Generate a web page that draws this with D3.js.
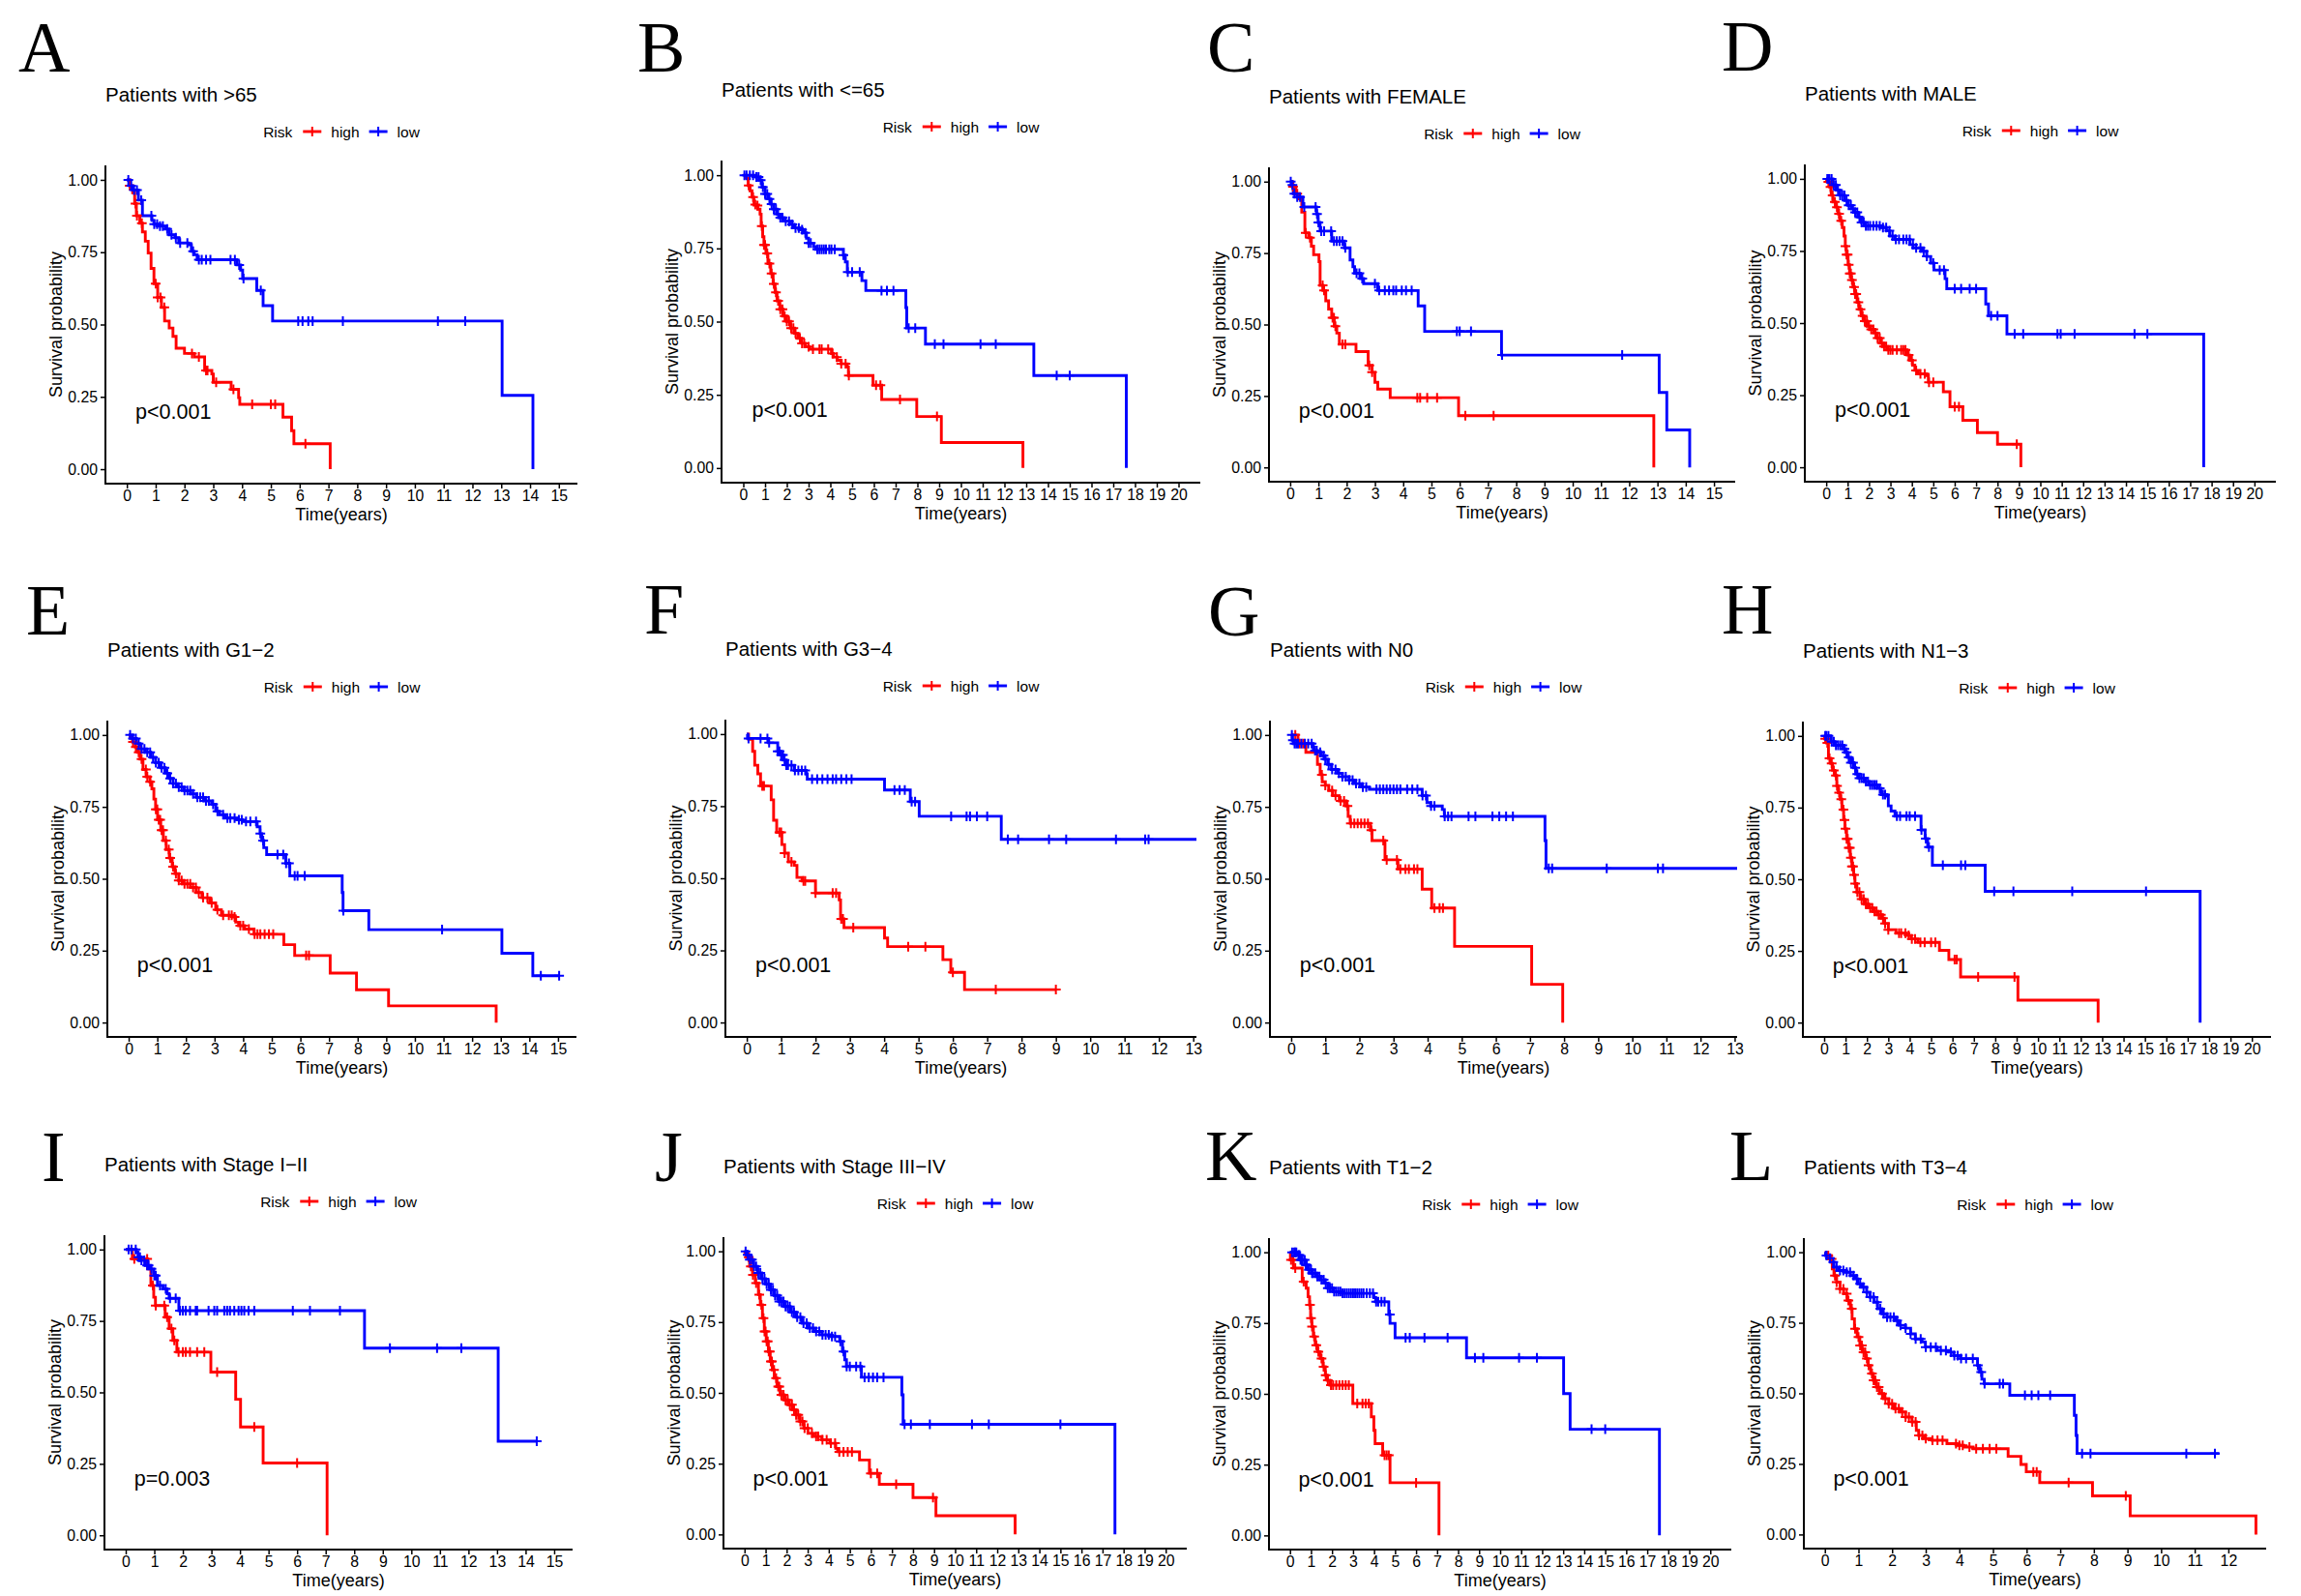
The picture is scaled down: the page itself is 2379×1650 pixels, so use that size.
<!DOCTYPE html>
<html><head><meta charset="utf-8">
<script src="https://cdn.jsdelivr.net/npm/d3@7"></script>
<style>body{margin:0;background:#fff}</style>
</head><body>
<svg id="chart" width="2379" height="1650"></svg>
<script>
// ---------------- DATA ----------------
const panelLetters = ["A","B","C","D","E","F","G","H","I","J","K","L"];
const panelTitles = ["Patients with >65","Patients with <=65","Patients with FEMALE","Patients with MALE",
  "Patients with G1\u22122","Patients with G3\u22124","Patients with N0","Patients with N1\u22123",
  "Patients with Stage I\u2212II","Patients with Stage III\u2212IV","Patients with T1\u22122","Patients with T3\u22124"];
const pValues = ["p<0.001","p<0.001","p<0.001","p<0.001","p<0.001","p<0.001","p<0.001","p<0.001","p=0.003","p<0.001","p<0.001","p<0.001"];
const xLimits = [14.9,20,15,20,14.9,12.47,12.45,19.9,14.9,20,20,12.5];
const xTickMax = [15,20,15,20,15,13,13,20,15,20,20,12];
const yTicks = [0,0.25,0.5,0.75,1];
const riskGroups = ["high","low"];
const highEnds = [7.06,12.85,12.87,9.09,12.84,9.0,7.96,12.81,7.05,12.85,7.09,12.82];
const lowEnds  = [14.1,17.6,14.14,17.63,15.04,13.2,13.2,17.58,14.39,17.59,17.58,11.73];

// steps: [time, survival after drop]; censors: times
const A_high = [[0.1,0.98],[0.2,0.955],[0.27,0.918],[0.33,0.876],[0.45,0.85],[0.54,0.82],[0.64,0.788],[0.74,0.747],[0.84,0.694],[0.94,0.641],[1.07,0.594],[1.2,0.559],[1.31,0.512],[1.47,0.488],[1.6,0.459],[1.71,0.418],[2.0,0.4],[2.34,0.388],[2.7,0.341],[2.95,0.329],[3.0,0.3],[3.62,0.276],[3.88,0.247],[3.92,0.224],[5.42,0.18],[5.72,0.133],[5.8,0.088],[7.06,0]];
const A_highCens = [0.1,0.3,0.35,0.52,1.0,1.07,1.17,1.3,2.26,2.5,2.75,2.8,3.1,3.7,4.35,5.0,5.15,6.2];
const A_low = [[0.1,0.98],[0.2,0.965],[0.4,0.93],[0.54,0.876],[0.87,0.86],[0.94,0.847],[1.07,0.84],[1.34,0.83],[1.47,0.81],[1.67,0.8],[1.8,0.782],[2.14,0.776],[2.24,0.753],[2.34,0.741],[2.44,0.724],[3.82,0.706],[3.95,0.688],[4.02,0.659],[4.51,0.618],[4.73,0.565],[5.06,0.512],[13.03,0.255],[14.1,0]];
const A_lowCens = [0.05,0.15,0.25,0.35,0.5,0.85,0.95,1.05,1.15,1.25,1.4,1.55,1.7,1.85,2.1,2.3,2.5,2.6,2.75,2.9,3.6,3.75,3.9,4.05,4.65,5.95,6.1,6.3,6.45,7.5,10.8,11.75];

const B_high = [[0.13,0.99],[0.22,0.965],[0.31,0.947],[0.4,0.925],[0.49,0.9],[0.58,0.896],[0.67,0.884],[0.77,0.867],[0.82,0.826],[0.89,0.79],[0.95,0.762],[1.04,0.733],[1.13,0.698],[1.26,0.664],[1.37,0.629],[1.46,0.6],[1.55,0.571],[1.68,0.542],[1.82,0.519],[1.99,0.501],[2.17,0.478],[2.35,0.46],[2.5,0.443],[2.68,0.426],[2.86,0.414],[3.04,0.406],[4.05,0.391],[4.14,0.379],[4.32,0.368],[4.5,0.356],[4.78,0.345],[4.83,0.316],[5.96,0.283],[6.36,0.234],[7.97,0.176],[9.1,0.087],[12.85,0]];
const B_highCens = [0.25,0.45,0.55,0.65,0.85,0.95,1.0,1.1,1.2,1.3,1.4,1.5,1.6,1.7,1.8,1.9,2.0,2.1,2.2,2.3,2.4,2.6,2.7,2.8,3.0,3.2,3.5,3.6,3.9,4.1,4.3,4.5,4.7,4.85,6.1,6.3,7.2,8.9];
const B_low = [[0.58,0.994],[0.73,0.983],[0.86,0.959],[1.0,0.936],[1.13,0.919],[1.26,0.901],[1.4,0.884],[1.55,0.867],[1.68,0.855],[1.86,0.843],[2.13,0.832],[2.32,0.82],[2.59,0.814],[2.77,0.803],[2.9,0.785],[3.0,0.768],[3.23,0.756],[3.32,0.747],[4.6,0.727],[4.69,0.704],[4.78,0.669],[5.45,0.64],[5.63,0.606],[7.47,0.548],[7.51,0.478],[8.37,0.423],[13.35,0.316],[17.6,0]];
const B_lowCens = [0.05,0.15,0.3,0.45,0.6,0.7,0.8,0.9,1.0,1.1,1.2,1.3,1.4,1.5,1.6,1.7,1.8,1.95,2.1,2.25,2.4,2.55,2.7,2.85,3.0,3.1,3.4,3.5,3.6,3.7,3.8,3.95,4.05,4.2,4.6,4.8,5.0,5.35,6.35,6.6,6.9,7.6,7.9,8.8,9.2,10.9,11.6,14.4,15.0];

const C_high = [[0.08,0.982],[0.2,0.958],[0.31,0.94],[0.41,0.893],[0.52,0.821],[0.65,0.804],[0.75,0.774],[0.83,0.744],[1.02,0.72],[1.06,0.637],[1.16,0.619],[1.26,0.583],[1.36,0.554],[1.47,0.524],[1.56,0.494],[1.65,0.47],[1.74,0.431],[2.33,0.405],[2.76,0.357],[2.9,0.333],[3.0,0.298],[3.1,0.274],[3.54,0.244],[5.96,0.181],[12.87,0]];
const C_highCens = [0.1,0.25,0.55,0.7,1.15,1.2,1.5,1.55,1.6,1.85,1.95,2.8,2.9,4.5,4.6,4.85,5.2,6.2,7.2];
const C_low = [[0.05,0.988],[0.11,0.958],[0.24,0.946],[0.45,0.911],[0.93,0.887],[0.99,0.857],[1.06,0.827],[1.47,0.792],[1.92,0.768],[2.12,0.726],[2.22,0.702],[2.28,0.679],[2.49,0.661],[2.6,0.643],[3.1,0.619],[4.53,0.565],[4.76,0.476],[7.48,0.393],[13.06,0.262],[13.33,0.131],[14.14,0]];
const C_lowCens = [0.02,0.08,0.15,0.25,0.35,0.5,0.9,0.95,1.0,1.1,1.2,1.45,1.55,1.65,1.75,1.85,1.95,2.35,2.45,2.55,3.0,3.15,3.35,3.5,3.65,3.75,3.95,4.1,4.3,5.9,6.0,6.4,7.5,11.75];

const D_high = [[0.02,0.99],[0.16,0.972],[0.23,0.943],[0.31,0.92],[0.44,0.902],[0.55,0.879],[0.63,0.855],[0.75,0.831],[0.83,0.802],[0.89,0.767],[0.94,0.737],[1.02,0.702],[1.09,0.672],[1.17,0.649],[1.25,0.625],[1.33,0.601],[1.44,0.572],[1.53,0.548],[1.64,0.525],[1.75,0.507],[1.91,0.489],[2.06,0.478],[2.22,0.466],[2.38,0.448],[2.53,0.43],[2.69,0.419],[2.89,0.407],[3.78,0.389],[3.91,0.371],[4.03,0.354],[4.14,0.336],[4.3,0.324],[4.69,0.318],[4.77,0.295],[5.47,0.262],[5.78,0.21],[6.38,0.163],[7.06,0.12],[8.0,0.08],[9.09,0]];
const D_highCens = [0.1,0.2,0.3,0.4,0.5,0.6,0.7,0.9,0.95,1.0,1.05,1.1,1.15,1.2,1.3,1.35,1.4,1.5,1.6,1.7,1.8,1.9,2.0,2.1,2.2,2.3,2.4,2.5,2.6,2.7,2.8,2.9,3.0,3.1,3.3,3.5,3.6,3.7,3.85,4.0,4.2,4.4,4.6,4.8,5.0,6.0,6.2,8.9];
const D_low = [[0.31,0.979],[0.47,0.961],[0.63,0.943],[0.86,0.925],[1.02,0.908],[1.17,0.896],[1.33,0.884],[1.48,0.867],[1.64,0.849],[1.8,0.837],[2.58,0.831],[2.81,0.82],[2.97,0.802],[3.2,0.79],[3.91,0.772],[4.06,0.761],[4.45,0.749],[4.69,0.731],[4.88,0.708],[5.03,0.684],[5.55,0.654],[5.63,0.619],[7.45,0.566],[7.58,0.525],[8.44,0.462],[17.63,0]];
const D_lowCens = [0.05,0.1,0.15,0.25,0.35,0.45,0.55,0.65,0.75,0.85,0.95,1.05,1.15,1.25,1.35,1.45,1.55,1.65,1.75,1.85,1.95,2.05,2.2,2.35,2.5,2.65,2.8,2.95,3.1,3.25,3.4,3.6,3.75,3.9,4.05,4.2,4.4,4.55,4.7,5.0,5.3,5.5,6.0,6.3,6.7,7.0,7.7,8.0,8.8,9.2,10.8,10.95,11.6,14.4,15.0];

const E_high = [[0.05,0.99],[0.13,0.976],[0.23,0.958],[0.31,0.94],[0.4,0.916],[0.5,0.88],[0.61,0.855],[0.74,0.837],[0.81,0.813],[0.88,0.777],[0.94,0.741],[1.01,0.705],[1.12,0.669],[1.21,0.633],[1.31,0.602],[1.42,0.572],[1.52,0.542],[1.62,0.518],[1.75,0.494],[1.89,0.482],[2.16,0.47],[2.36,0.452],[2.56,0.434],[2.83,0.416],[3.04,0.392],[3.24,0.373],[3.64,0.367],[3.74,0.349],[3.84,0.337],[4.05,0.325],[4.38,0.307],[5.42,0.271],[5.8,0.233],[7.04,0.172],[7.96,0.114],[9.08,0.058],[12.84,0]];
const E_highCens = [0.15,0.25,0.35,0.45,0.6,0.65,0.75,0.95,1.0,1.05,1.1,1.15,1.2,1.3,1.4,1.45,1.55,1.65,1.75,1.85,1.95,2.05,2.15,2.25,2.35,2.45,2.6,2.75,2.9,3.1,3.3,3.5,3.6,3.7,3.9,4.0,4.2,4.4,4.5,4.6,4.75,4.9,5.05,6.2,6.3];
const E_low = [[0.13,0.988],[0.27,0.97],[0.4,0.952],[0.58,0.94],[0.77,0.922],[0.94,0.904],[1.12,0.886],[1.28,0.867],[1.42,0.849],[1.55,0.831],[1.69,0.819],[1.93,0.807],[2.16,0.795],[2.36,0.783],[2.63,0.771],[2.9,0.759],[3.04,0.735],[3.17,0.723],[3.37,0.711],[3.78,0.705],[3.98,0.699],[4.49,0.681],[4.59,0.657],[4.65,0.633],[4.72,0.608],[4.82,0.584],[5.49,0.554],[5.63,0.51],[7.46,0.452],[7.49,0.389],[8.39,0.323],[13.04,0.241],[14.12,0.163]];
const E_lowCens = [0.05,0.15,0.25,0.35,0.45,0.55,0.65,0.75,0.85,0.95,1.05,1.15,1.25,1.35,1.45,1.55,1.65,1.75,1.85,1.95,2.05,2.15,2.25,2.4,2.5,2.6,2.7,2.8,2.95,3.1,3.3,3.45,3.55,3.7,3.85,3.95,4.1,4.25,4.45,4.6,4.7,5.2,5.4,5.5,5.6,5.8,5.9,6.15,7.5,10.95,14.4,15.04];

const F_high = [[0.05,0.982],[0.17,0.94],[0.23,0.892],[0.32,0.862],[0.4,0.82],[0.71,0.772],[0.78,0.701],[0.87,0.659],[1.02,0.617],[1.1,0.587],[1.21,0.557],[1.38,0.545],[1.46,0.503],[1.61,0.491],[2.0,0.449],[2.69,0.425],[2.73,0.359],[2.83,0.329],[4.01,0.293],[4.1,0.263],[5.71,0.218],[5.94,0.174],[6.34,0.114]];
const F_highCens = [0.45,0.5,0.95,1.0,1.1,1.3,1.65,1.7,2.0,2.5,2.6,2.75,2.8,3.1,4.7,5.2,6.0,7.25,9.0];
const F_low = [[0.02,0.985],[0.63,0.97],[0.9,0.94],[0.98,0.928],[1.06,0.91],[1.15,0.892],[1.38,0.874],[1.73,0.862],[1.76,0.844],[4.01,0.806],[4.76,0.766],[5.02,0.715],[7.41,0.635]];
const F_lowCens = [0.05,0.4,0.6,0.65,0.9,0.95,1.0,1.05,1.1,1.15,1.2,1.3,1.4,1.5,1.6,1.7,1.9,2.05,2.2,2.35,2.5,2.6,2.75,2.9,3.05,4.3,4.45,4.6,4.8,4.9,5.95,6.4,6.5,6.7,7.0,7.6,7.9,8.8,9.3,10.75,11.6,11.7];

const G_high = [[0.2,0.97],[0.43,0.94],[0.77,0.898],[0.85,0.862],[0.91,0.837],[1.0,0.825],[1.1,0.807],[1.22,0.789],[1.41,0.771],[1.61,0.753],[1.67,0.717],[1.73,0.693],[2.32,0.669],[2.37,0.633],[2.75,0.566],[3.13,0.534],[3.84,0.464],[4.12,0.398],[4.79,0.265],[7.05,0.133],[7.96,0]];
const G_highCens = [0.12,0.25,0.35,0.9,1.0,1.2,1.3,1.45,1.55,1.65,1.75,1.85,1.95,2.05,2.15,2.25,2.35,2.7,2.8,3.1,3.2,3.35,3.45,3.6,3.7,4.2,4.35,4.45];
const G_low = [[0.03,0.982],[0.09,0.97],[0.65,0.946],[0.77,0.94],[0.88,0.928],[0.99,0.916],[1.07,0.898],[1.18,0.88],[1.36,0.867],[1.5,0.855],[1.7,0.843],[1.84,0.831],[2.06,0.819],[2.29,0.811],[3.84,0.789],[3.98,0.765],[4.09,0.753],[4.43,0.741],[4.49,0.717],[7.44,0.633],[7.47,0.536]];
const G_lowCens = [0.02,0.05,0.1,0.15,0.2,0.3,0.4,0.5,0.6,0.7,0.75,0.85,0.95,1.0,1.1,1.2,1.3,1.4,1.5,1.6,1.7,1.8,1.9,2.0,2.1,2.2,2.5,2.6,2.7,2.8,2.9,3.0,3.1,3.2,3.4,3.55,3.7,3.85,3.95,4.1,4.2,4.5,4.6,4.7,5.2,5.4,5.9,6.1,6.3,6.5,7.55,7.65,9.25,10.75,10.9];

const H_high = [[0.02,0.99],[0.11,0.976],[0.2,0.922],[0.31,0.904],[0.39,0.88],[0.5,0.862],[0.59,0.826],[0.66,0.802],[0.75,0.779],[0.83,0.743],[0.91,0.707],[0.97,0.676],[1.05,0.641],[1.14,0.61],[1.22,0.575],[1.3,0.545],[1.38,0.515],[1.44,0.485],[1.53,0.455],[1.69,0.431],[1.88,0.413],[2.06,0.4],[2.27,0.388],[2.5,0.376],[2.66,0.364],[2.81,0.346],[3.0,0.324],[3.36,0.312],[3.83,0.304],[4.06,0.292],[4.38,0.28],[5.39,0.252],[5.83,0.22],[6.38,0.159],[9.06,0.078],[12.81,0]];
const H_highCens = [0.05,0.15,0.25,0.35,0.45,0.55,0.6,0.7,0.8,0.9,0.95,1.0,1.05,1.1,1.15,1.2,1.25,1.3,1.35,1.4,1.45,1.55,1.65,1.75,1.85,1.95,2.05,2.15,2.25,2.35,2.45,2.55,2.65,2.75,2.85,3.0,3.5,3.6,3.8,3.95,4.1,4.25,4.5,4.7,5.0,5.2,6.1,6.2,7.2,8.9];
const H_low = [[0.31,0.98],[0.47,0.967],[0.86,0.955],[0.98,0.943],[1.09,0.925],[1.25,0.907],[1.38,0.889],[1.48,0.867],[1.64,0.853],[1.88,0.841],[2.11,0.829],[2.5,0.817],[2.66,0.795],[2.94,0.79],[3.0,0.756],[3.13,0.738],[3.31,0.72],[4.53,0.672],[4.72,0.642],[4.84,0.612],[5.06,0.549],[7.53,0.458],[17.58,0]];
const H_lowCens = [0.05,0.1,0.2,0.35,0.45,0.55,0.65,0.75,0.85,0.95,1.05,1.15,1.25,1.35,1.45,1.55,1.65,1.75,1.85,1.95,2.05,2.15,2.25,2.35,2.45,2.6,2.75,2.85,3.4,3.55,3.85,4.0,4.25,4.55,4.75,4.9,5.55,6.4,6.6,7.95,8.85,11.6,15.05];

const I_high = [[0.23,0.967],[0.77,0.932],[0.88,0.874],[0.98,0.833],[1.04,0.804],[1.38,0.763],[1.52,0.723],[1.65,0.682],[1.79,0.641],[2.98,0.571],[3.85,0.476],[4.02,0.379],[4.81,0.253],[7.05,0]];
const I_highCens = [0.3,0.75,0.95,1.05,1.35,1.45,1.6,1.7,1.85,2.0,2.1,2.25,2.5,2.75,3.2,4.5,6.0];
const I_low = [[0.37,0.991],[0.43,0.973],[0.54,0.962],[0.68,0.944],[0.84,0.932],[0.98,0.909],[1.11,0.874],[1.31,0.862],[1.45,0.845],[1.52,0.829],[1.86,0.786],[8.36,0.655],[13.04,0.329]];
const I_lowCens = [0.1,0.2,0.35,0.45,0.5,0.55,0.65,0.75,0.8,0.9,1.0,1.05,1.2,1.4,1.55,1.75,1.9,2.0,2.1,2.25,2.45,2.5,2.9,3.1,3.2,3.45,3.55,3.65,3.8,3.95,4.05,4.15,4.3,4.5,5.85,6.45,7.5,9.25,10.9,11.75,14.39];

const J_high = [[0.02,0.995],[0.13,0.979],[0.24,0.947],[0.38,0.917],[0.51,0.888],[0.66,0.847],[0.75,0.811],[0.85,0.764],[0.94,0.717],[1.03,0.682],[1.13,0.646],[1.22,0.611],[1.32,0.581],[1.41,0.552],[1.54,0.522],[1.69,0.493],[1.88,0.475],[2.07,0.458],[2.26,0.44],[2.45,0.422],[2.63,0.399],[2.82,0.375],[3.01,0.357],[3.29,0.346],[3.67,0.334],[4.05,0.322],[4.33,0.304],[4.42,0.292],[5.46,0.263],[5.93,0.216],[6.4,0.177],[8.0,0.13],[9.09,0.066],[12.85,0]];
const J_highCens = [0.2,0.3,0.4,0.55,0.7,0.8,0.9,0.95,1.0,1.05,1.1,1.15,1.2,1.25,1.3,1.4,1.5,1.6,1.65,1.75,1.85,1.95,2.05,2.15,2.25,2.35,2.45,2.55,2.65,2.75,2.85,3.0,3.2,3.4,3.5,3.7,3.9,4.1,4.3,4.5,4.7,4.9,5.1,6.0,6.3,7.2,8.95];
const J_low = [[0.09,0.988],[0.24,0.971],[0.43,0.947],[0.62,0.924],[0.81,0.903],[1.0,0.884],[1.22,0.864],[1.41,0.844],[1.64,0.823],[1.88,0.805],[2.16,0.785],[2.45,0.767],[2.73,0.746],[3.01,0.729],[3.29,0.717],[3.67,0.705],[4.1,0.699],[4.52,0.682],[4.65,0.646],[4.76,0.617],[4.84,0.593],[5.55,0.555],[7.47,0.493],[7.53,0.389],[17.59,0]];
const J_lowCens = [0.05,0.15,0.25,0.35,0.45,0.55,0.65,0.75,0.85,0.95,1.05,1.15,1.25,1.35,1.45,1.55,1.65,1.75,1.85,1.95,2.05,2.15,2.25,2.35,2.5,2.65,2.8,2.95,3.1,3.25,3.4,3.55,3.7,3.85,4.0,4.15,4.3,4.55,4.7,4.85,5.0,5.3,5.5,5.7,5.9,6.1,6.3,6.6,7.6,7.9,8.8,10.8,11.6,15.0];

const K_high = [[0.02,0.973],[0.16,0.944],[0.58,0.896],[0.77,0.873],[0.86,0.843],[0.93,0.814],[0.98,0.767],[1.04,0.737],[1.11,0.702],[1.2,0.672],[1.31,0.649],[1.44,0.625],[1.57,0.596],[1.68,0.566],[1.77,0.548],[1.9,0.531],[2.99,0.466],[3.87,0.419],[3.99,0.371],[4.05,0.324],[4.41,0.283],[4.76,0.186],[7.09,0]];
const K_highCens = [0.05,0.15,0.25,0.65,0.95,1.0,1.05,1.15,1.25,1.35,1.5,1.6,1.7,1.8,1.95,2.05,2.2,2.35,2.5,2.65,2.8,3.2,3.45,3.6,3.75,4.5,4.6,4.7,6.0];
const K_low = [[0.35,0.99],[0.47,0.973],[0.71,0.955],[0.89,0.938],[1.02,0.926],[1.26,0.914],[1.44,0.903],[1.62,0.891],[1.8,0.873],[2.08,0.861],[2.5,0.855],[3.99,0.84],[4.08,0.825],[4.7,0.78],[4.76,0.749],[5.0,0.698],[8.4,0.627],[13.02,0.501],[13.33,0.375],[17.58,0]];
const K_lowCens = [0.1,0.2,0.25,0.3,0.4,0.45,0.5,0.55,0.6,0.7,0.75,0.8,0.9,1.0,1.05,1.1,1.2,1.3,1.4,1.5,1.6,1.7,1.8,1.9,2.0,2.1,2.2,2.3,2.4,2.5,2.6,2.7,2.8,2.9,3.0,3.1,3.2,3.3,3.4,3.5,3.65,3.8,3.95,4.1,4.2,4.35,4.5,4.75,5.5,5.7,6.4,7.5,8.8,9.2,10.9,11.75,14.35,15.0];

const L_high = [[0.02,0.995],[0.07,0.988],[0.15,0.976],[0.22,0.941],[0.27,0.917],[0.35,0.894],[0.45,0.87],[0.56,0.853],[0.66,0.829],[0.76,0.8],[0.81,0.764],[0.88,0.729],[0.96,0.7],[1.04,0.67],[1.11,0.646],[1.21,0.623],[1.29,0.599],[1.36,0.57],[1.44,0.546],[1.53,0.522],[1.63,0.499],[1.75,0.481],[1.9,0.463],[2.05,0.446],[2.25,0.434],[2.4,0.416],[2.59,0.399],[2.72,0.369],[2.79,0.351],[2.94,0.34],[3.19,0.334],[3.63,0.322],[3.93,0.316],[4.13,0.31],[4.41,0.304],[5.45,0.277],[5.83,0.248],[5.99,0.222],[6.39,0.184],[7.96,0.137],[9.08,0.066],[12.82,0]];
const L_highCens = [0.1,0.2,0.3,0.35,0.45,0.55,0.65,0.7,0.8,0.9,1.0,1.05,1.1,1.15,1.2,1.25,1.3,1.4,1.45,1.5,1.55,1.6,1.7,1.8,1.9,2.0,2.1,2.2,2.3,2.4,2.5,2.6,2.7,2.8,2.9,3.0,3.2,3.35,3.5,3.9,4.0,4.1,4.3,4.5,4.7,4.9,5.1,6.2,6.3,7.25,8.95];
const L_low = [[0.02,0.988],[0.07,0.979],[0.17,0.965],[0.27,0.947],[0.42,0.935],[0.61,0.929],[0.76,0.917],[0.91,0.906],[0.98,0.888],[1.11,0.876],[1.24,0.858],[1.34,0.841],[1.46,0.823],[1.57,0.8],[1.7,0.782],[1.85,0.77],[2.1,0.758],[2.2,0.741],[2.4,0.731],[2.55,0.711],[2.69,0.693],[2.89,0.682],[2.99,0.664],[3.34,0.652],[3.68,0.646],[3.83,0.634],[4.03,0.623],[4.54,0.599],[4.6,0.575],[4.67,0.55],[4.74,0.534],[5.5,0.493],[7.42,0.422],[7.47,0.351],[7.5,0.287]];
const L_lowCens = [0.05,0.15,0.25,0.35,0.45,0.55,0.65,0.75,0.85,0.95,1.05,1.15,1.25,1.35,1.45,1.55,1.65,1.75,1.85,1.95,2.05,2.15,2.25,2.4,2.55,2.7,2.85,3.0,3.15,3.3,3.45,3.6,3.75,3.85,3.95,4.05,4.2,4.4,4.55,4.65,4.75,5.2,5.3,5.95,6.15,6.35,6.7,7.65,7.9,10.75,11.6];

const highSteps = [A_high,B_high,C_high,D_high,E_high,F_high,G_high,H_high,I_high,J_high,K_high,L_high];
const highCens  = [A_highCens,B_highCens,C_highCens,D_highCens,E_highCens,F_highCens,G_highCens,H_highCens,I_highCens,J_highCens,K_highCens,L_highCens];
const lowSteps  = [A_low,B_low,C_low,D_low,E_low,F_low,G_low,H_low,I_low,J_low,K_low,L_low];
const lowCens   = [A_lowCens,B_lowCens,C_lowCens,D_lowCens,E_lowCens,F_lowCens,G_lowCens,H_lowCens,I_lowCens,J_lowCens,K_lowCens,L_lowCens];

// ---------------- LAYOUT (pixels) ----------------
// [axisX, axisRight, panelTop, axisBottom]
const boxes = [[109,597,171,500],[746,1241,166,499],[1312,1794,173,498],[1866,2353,170,498],
               [111,596,745,1072],[750,1237,744,1072],[1313,1796,745,1072],[1864,2348,746,1072],
               [108,592,1277,1602],[748,1227,1279,1601],[1312,1790,1280,1602],[1865,2343,1280,1601]];
// letter [x, baseline]
const letterPos = [[19,74],[659,74],[1248,74],[1780,73],[27,656],[666,655],[1249,657],[1780,655],
                   [43,1221],[677,1221],[1246,1220],[1788,1220]];
const colors = {high:"#FF0000", low:"#0000FF"};
const SANS = "'Liberation Sans', Arial, sans-serif";
const CURVE_W = 2.9, CENS_W = 2.0;

const svg = d3.select("#chart");
svg.append("rect").attr("width",2379).attr("height",1650).attr("fill","#fff");

function survAt(steps, t){ let s=1; for(const [tt,v] of steps){ if(tt<=t) s=v; else break;} return s; }
const plusPath = "M-5,0H5M0,-5V5";

panelLetters.forEach((L,i)=>{
  const [ax, ar, top, bot] = boxes[i];
  const M = xLimits[i];
  const x = d3.scaleLinear().domain([-0.05*M, 1.05*M]).range([ax, ar]);
  const y = d3.scaleLinear().domain([-0.05, 1.05]).range([bot, top]);
  const g = svg.append("g");

  // panel letter
  g.append("text").attr("x",letterPos[i][0]).attr("y",letterPos[i][1])
    .attr("font-family","'Liberation Serif','Times New Roman',serif").attr("font-size",74).attr("fill","#000").text(L);
  // title
  g.append("text").attr("x",ax).attr("y",top-66).attr("font-family",SANS).attr("font-size",20.5).attr("fill","#000").text(panelTitles[i]);

  // legend
  const lg = g.append("g").attr("transform",`translate(0,${top-35})`);
  let cx = 0;
  const items = [];
  const tRisk = lg.append("text").attr("font-family",SANS).attr("font-size",15.5).attr("dy","0.36em").attr("fill","#000").text("Risk");
  items.push({el:tRisk, w:tRisk.node().getComputedTextLength(), gap:11});
  riskGroups.forEach((grp,k)=>{
    const kg = lg.append("g");
    kg.append("line").attr("x1",0).attr("x2",19).attr("stroke",colors[grp]).attr("stroke-width",CURVE_W);
    kg.append("path").attr("d",plusPath).attr("transform","translate(9.5,0)").attr("stroke",colors[grp]).attr("stroke-width",CENS_W);
    items.push({el:kg, w:19, gap:10, isG:true});
    const tl = lg.append("text").attr("font-family",SANS).attr("font-size",15.5).attr("dy","0.36em").attr("fill","#000").text(grp);
    items.push({el:tl, w:tl.node().getComputedTextLength(), gap:10});
  });
  let total = 0; items.forEach((it,k)=>{ total += it.w + (k<items.length-1?it.gap:0); });
  cx = (ax+ar)/2 - total/2;
  items.forEach(it=>{
    if(it.isG) it.el.attr("transform",`translate(${cx},0)`); else it.el.attr("x",cx);
    cx += it.w + it.gap;
  });

  // clip
  const cid = "clip"+L;
  svg.append("clipPath").attr("id",cid).append("rect").attr("x",ax).attr("y",top-6).attr("width",ar-ax).attr("height",bot-top+6);

  // axes
  const yAxis = d3.axisLeft(y).tickValues(yTicks).tickFormat(d3.format(".2f")).tickSize(5).tickPadding(3);
  const xAxis = d3.axisBottom(x).tickValues(d3.range(0, xTickMax[i]+1)).tickFormat(d3.format("d")).tickSize(5).tickPadding(2);
  const gy = g.append("g").attr("transform",`translate(${ax},0)`).call(yAxis);
  const gx = g.append("g").attr("transform",`translate(0,${bot})`).call(xAxis);
  [gx,gy].forEach(a=>{
    a.select(".domain").remove();
    a.selectAll(".tick line").attr("stroke","#000").attr("stroke-width",1.5);
    a.selectAll(".tick text").attr("font-family",SANS).attr("font-size",15.8).attr("fill","#000");
  });
  g.append("line").attr("x1",ax).attr("x2",ax).attr("y1",top).attr("y2",bot+1).attr("stroke","#000").attr("stroke-width",2);
  g.append("line").attr("x1",ax-1).attr("x2",ar).attr("y1",bot).attr("y2",bot).attr("stroke","#000").attr("stroke-width",2);

  // axis titles
  g.append("text").attr("x",(ax+ar)/2).attr("y",bot+32).attr("dy","0.36em").attr("text-anchor","middle")
    .attr("font-family",SANS).attr("font-size",18).attr("fill","#000").text("Time(years)");
  g.append("text").attr("transform",`translate(${ax-51},${(top+bot)/2}) rotate(-90)`).attr("dy","0.36em").attr("text-anchor","middle")
    .attr("font-family",SANS).attr("font-size",18).attr("fill","#000").text("Survival probability");

  // curves
  const series = [
    {grp:"high", steps:highSteps[i], cens:highCens[i], end:highEnds[i]},
    {grp:"low",  steps:lowSteps[i],  cens:lowCens[i],  end:lowEnds[i]}
  ];
  const line = d3.line().x(d=>x(d[0])).y(d=>y(d[1])).curve(d3.curveStepAfter);
  const cg = g.append("g").attr("clip-path",`url(#${cid})`);
  series.forEach(s=>{
    const pts = [[0,1], ...s.steps];
    const last = pts[pts.length-1];
    if (s.end > last[0]) pts.push([s.end, last[1]]);
    cg.append("path").attr("d",line(pts)).attr("fill","none").attr("stroke",colors[s.grp]).attr("stroke-width",CURVE_W);
  });
  series.forEach(s=>{
    cg.selectAll(null).data(s.cens).enter().append("path")
      .attr("d",plusPath).attr("transform",t=>`translate(${x(t)},${y(survAt(s.steps,t))})`)
      .attr("stroke",colors[s.grp]).attr("stroke-width",CENS_W).attr("fill","none");
  });

  // p value
  g.append("text").attr("x",x(M/50)).attr("y",y(0.2)).attr("dy","0.36em")
    .attr("font-family",SANS).attr("font-size",21.5).attr("fill","#000").text(pValues[i]);
});
</script>
</body></html>
